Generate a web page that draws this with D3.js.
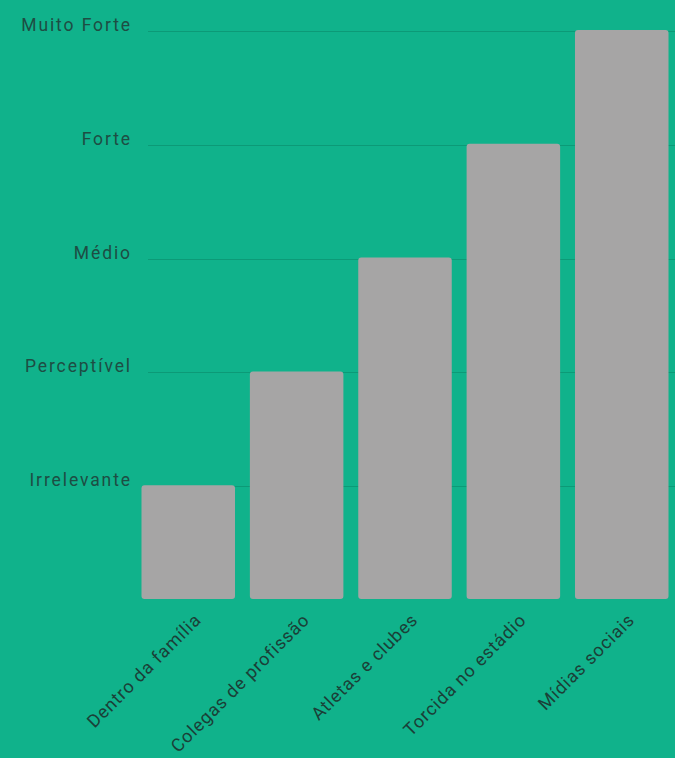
<!DOCTYPE html>
<html>
<head>
<meta charset="utf-8">
<script src="https://cdn.jsdelivr.net/npm/d3@7"></script>
<style>
  html, body { margin: 0; padding: 0; background: #10b28b; }
  svg { display: block; }
  text { font-family: Roboto, "Liberation Sans", Arial, sans-serif; }
</style>
</head>
<body>
<script>
const categories = ["Dentro da família", "Colegas de profissão", "Atletas e clubes", "Torcida no estádio", "Mídias sociais"];
const values = [1, 2, 3, 4, 5];
const levelValues = [1, 2, 3, 4, 5];
const levelLabels = ["Irrelevante", "Perceptível", "Médio", "Forte", "Muito Forte"];

const W = 675, H = 758;
const svg = d3.select("body").append("svg").attr("width", W).attr("height", H);

svg.append("rect").attr("width", W).attr("height", H).attr("fill", "#10b28b");

const x = d3.scaleBand().domain(categories).range([141.5, 668.5]).paddingInner(0.137).paddingOuter(0);
const y = d3.scaleLinear().domain([0, 5]).range([599, 30]);

// gridlines
svg.append("g").selectAll("line").data(levelValues).join("line")
  .attr("x1", 148).attr("x2", W)
  .attr("y1", d => Math.round(y(d)) + 1.5).attr("y2", d => Math.round(y(d)) + 1.5)
  .attr("stroke", "#0c9a77").attr("stroke-width", 1.2);

// y labels
svg.append("g").selectAll("text").data(levelValues).join("text")
  .attr("x", 132).attr("y", d => y(d) + 1)
  .attr("text-anchor", "end")
  .attr("font-size", 17.5)
  .attr("letter-spacing", 1.9)
  .attr("fill", "#1e4d43")
  .text((d, i) => levelLabels[i]);

// bars
svg.append("g").selectAll("rect").data(values).join("rect")
  .attr("x", (d, i) => x(categories[i]))
  .attr("y", d => y(d))
  .attr("width", x.bandwidth())
  .attr("height", d => y(0) - y(d))
  .attr("rx", 3).attr("ry", 3)
  .attr("fill", "#a6a5a5");

// x labels
svg.append("g").selectAll("text").data(categories).join("text")
  .attr("transform", d => `translate(${x(d) + x.bandwidth() / 2 + 14},${621}) rotate(-45)`)
  .attr("text-anchor", "end")
  .attr("font-size", 18)
  .attr("letter-spacing", 0.9)
  .attr("fill", "#1b3f37")
  .text(d => d);
</script>
</body>
</html>
